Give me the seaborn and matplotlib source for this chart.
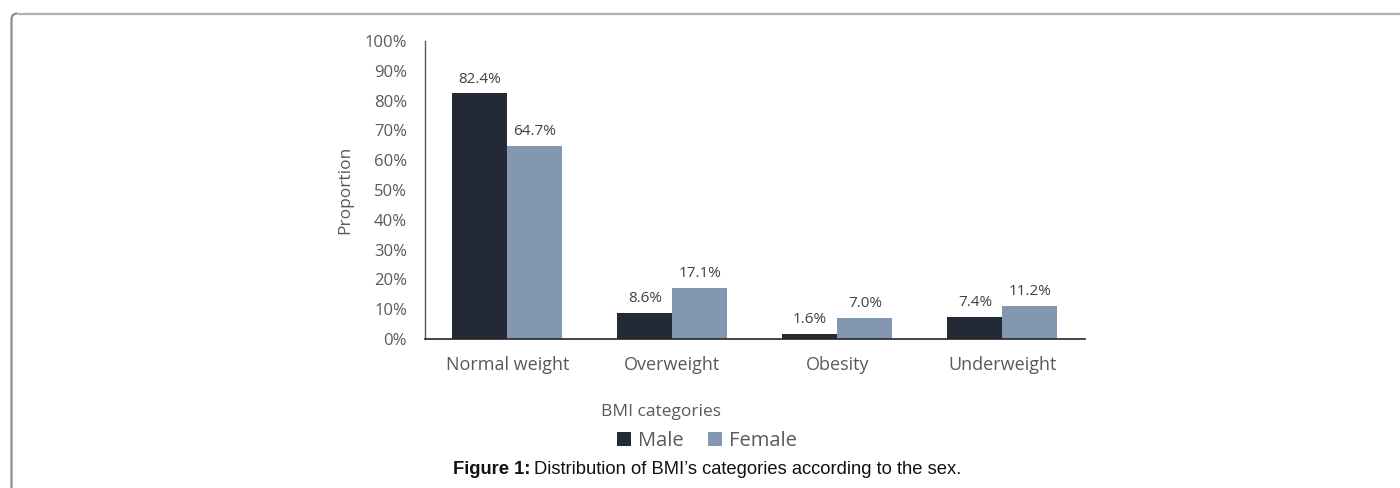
import matplotlib
matplotlib.use("Agg")
import matplotlib.pyplot as plt
import seaborn as sns
import pandas as pd
from matplotlib.ticker import FuncFormatter
from matplotlib.patches import Patch, PathPatch
from matplotlib.path import Path

categories = ["Normal weight", "Overweight", "Obesity", "Underweight"]
male = [82.4, 8.6, 1.6, 7.4]
female = [64.7, 17.1, 7.0, 11.2]
series = ["Male", "Female"]
colors = {"Male": "#242A35", "Female": "#8497B0"}
yticks = list(range(0, 101, 10))

df = pd.DataFrame({
    "category": categories * 2,
    "sex": ["Male"] * len(categories) + ["Female"] * len(categories),
    "value": male + female,
})

sns.set_theme(style="white")
plt.rcParams["font.family"] = ["Open Sans", "DejaVu Sans"]
TXT = "#595959"

W, H = 1400, 488
fig = plt.figure(figsize=(W / 100, H / 100), dpi=100)
fig.patch.set_facecolor("white")


def fx(x):
    return x / W


def fy(y):
    return 1 - y / H


# page frame: left edge with rounded corner, top edge running off the right
x0, y0, rr = 11.5, 13.5, 6
left_path = Path([(fx(x0), fy(H + 20)), (fx(x0), fy(y0 + rr)),
                  (fx(x0), fy(y0)), (fx(x0 + rr), fy(y0))],
                 [Path.MOVETO, Path.LINETO, Path.CURVE3, Path.CURVE3])
top_path = Path([(fx(x0 + rr), fy(y0)), (fx(W + 20), fy(y0))],
                [Path.MOVETO, Path.LINETO])
fig.patches.append(PathPatch(left_path, transform=fig.transFigure, fill=False,
                             edgecolor="#8c8c8c", linewidth=1.6, clip_on=False))
fig.patches.append(PathPatch(top_path, transform=fig.transFigure, fill=False,
                             edgecolor="#b0b0b0", linewidth=1.6, clip_on=False))

ax = fig.add_axes([fx(425), fy(339), 660 / W, 298 / H])
sns.barplot(data=df, x="category", y="value", hue="sex", order=categories,
            hue_order=series, palette=colors, width=2 / 3, gap=0,
            saturation=1, ax=ax, legend=False, errorbar=None, linewidth=0)

ax.set_ylim(0, 100)
ax.set_xlim(-0.5, 3.5)
ax.set_yticks(yticks)
ax.yaxis.set_major_formatter(FuncFormatter(lambda v, p: f"{int(v)}%"))
ax.tick_params(axis="y", length=0, pad=13, labelsize=12, labelcolor=TXT)
ax.tick_params(axis="x", length=0, pad=12, labelsize=13, labelcolor=TXT)

for c in ax.containers:
    ax.bar_label(c, fmt="%.1f%%", padding=5, fontsize=11, color="#404040")

for s in ["top", "right"]:
    ax.spines[s].set_visible(False)
ax.spines["left"].set_color("#595959")
ax.spines["left"].set_linewidth(1.0)
ax.spines["bottom"].set_color("#262626")
ax.spines["bottom"].set_linewidth(1.2)

ax.set_ylabel("Proportion", fontsize=12.5, color=TXT)
ax.yaxis.set_label_coords(-0.108, 0.5)
ax.set_xlabel("BMI categories", fontsize=12.5, color=TXT)
ax.xaxis.set_label_coords((661 - 425) / 660, (339 - 404) / 298)

handles = [Patch(facecolor=colors[s], edgecolor="none") for s in series]
fig.legend(handles, series, loc="center", bbox_to_anchor=(fx(707), fy(441)),
           ncol=2, frameon=False, fontsize=14.5, labelcolor=TXT,
           handlelength=0.7, handleheight=0.7, handletextpad=0.35,
           columnspacing=1.2)

# caption with bold prefix
fig.canvas.draw()
r = fig.canvas.get_renderer()
cap_y = fy(469)
t1 = fig.text(fx(453), cap_y, "Figure 1:", fontsize=13.2, fontweight="bold",
              family="Liberation Sans", color="#111111", va="center", ha="left")
bb = t1.get_window_extent(renderer=r)
fig.text(bb.x1 / W + 4 / W, cap_y,
         "Distribution of BMI\u2019s categories according to the sex.",
         fontsize=13.2, family="Liberation Sans", color="#111111",
         va="center", ha="left")

fig.savefig("out.png", dpi=100)
